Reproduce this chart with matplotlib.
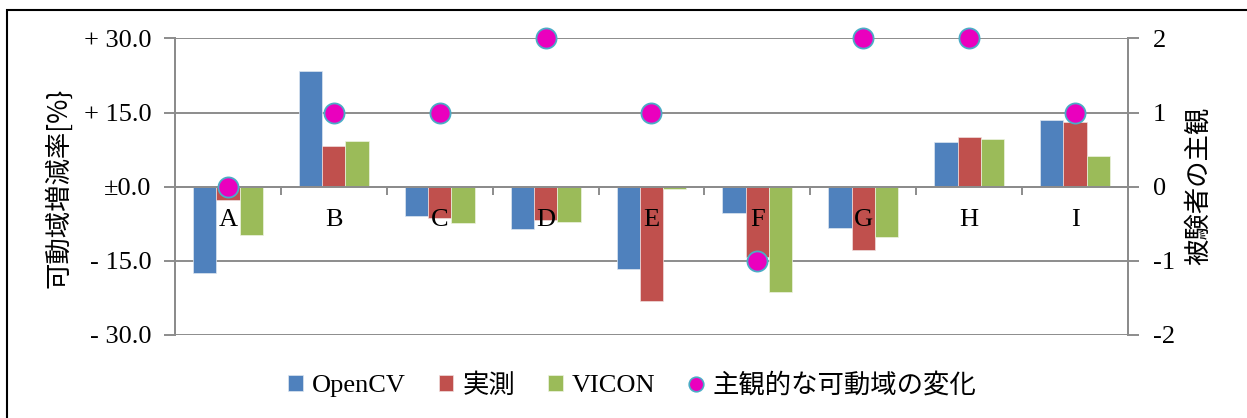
import matplotlib.pyplot as plt
from matplotlib.lines import Line2D
from matplotlib.patches import Rectangle
import numpy as np

# 被験者ごとの可動域増減率[%]と主観評価
subjects = ["A", "B", "C", "D", "E", "F", "G", "H", "I"]
opencv = [-17.4, 23.4, -5.9, -8.6, -16.7, -5.4, -8.3, 9.0, 13.6]
jissoku = [-2.7, 8.3, -6.3, -6.8, -23.1, -14.2, -12.8, 10.0, 13.1]
vicon = [-9.7, 9.3, -7.3, -7.2, -0.4, -21.3, -10.1, 9.7, 6.2]
shukan = [0, 1, 1, 2, 1, -1, 2, 2, 1]

left_ticks = [30, 15, 0, -15, -30]
left_labels = ["+ 30.0", "+ 15.0", "±0.0", "- 15.0", "- 30.0"]
right_ticks = [2, 1, 0, -1, -2]
right_labels = ["2", "1", "0", "-1", "-2"]

serif = ["Liberation Serif", "Noto Sans CJK JP"]
gothic = ["Noto Sans CJK JP", "DejaVu Sans"]
grid_c = "#8c8c8c"
fs = 19

fig = plt.figure(figsize=(12.47, 4.18), dpi=100)
ax = fig.add_axes([0.1403, 0.1986, 0.7643, 0.7093])
ax2 = ax.twinx()

x = np.arange(len(subjects))
w = 0.22
b1 = ax.bar(x - w, opencv, w, color="#4F81BD", edgecolor="#dde6f0", linewidth=0.5, label="OpenCV")
b2 = ax.bar(x, jissoku, w, color="#C0504D", edgecolor="#f0dede", linewidth=0.5, label="実測")
b3 = ax.bar(x + w, vicon, w, color="#9BBB59", edgecolor="#eef3e2", linewidth=0.5, label="VICON")

ax2.plot(x, shukan, linestyle="none", marker="o", ms=14.5, mfc="#EA00BE",
         mec="#4BACC6", mew=1.3, clip_on=False, zorder=5)

ax.set_xlim(-0.5, len(subjects) - 0.5)
ax.set_ylim(-30, 30)
ax2.set_ylim(-2, 2)

for y in left_ticks:
    ax.axhline(y, color=grid_c, lw=1.4, zorder=0.5)

ax.set_yticks(left_ticks)
ax.set_yticklabels(left_labels, family=serif, fontsize=fs)
ax2.set_yticks(right_ticks)
ax2.set_yticklabels(right_labels, family=serif, fontsize=fs)

ax.tick_params(axis="y", length=8, width=1.4, color=grid_c, pad=9)
ax2.tick_params(axis="y", length=8, width=1.4, color=grid_c, pad=10)

# カテゴリ軸は0の位置に置く
ax.spines["bottom"].set_position(("data", 0))
ax.spines["bottom"].set_color(grid_c)
ax.spines["bottom"].set_linewidth(1.4)
ax.set_xticks(x)
ax.set_xticklabels(subjects, family=serif, fontsize=fs)
ax.tick_params(axis="x", which="major", length=0, pad=16)
ax.set_xticks(np.arange(0.5, len(subjects) - 1, 1.0), minor=True)
ax.tick_params(axis="x", which="minor", length=6, width=1.4, color=grid_c, direction="out")

for a in (ax, ax2):
    a.spines["top"].set_visible(False)
    a.spines["left"].set_color(grid_c)
    a.spines["right"].set_color(grid_c)
    a.spines["left"].set_linewidth(1.4)
    a.spines["right"].set_linewidth(1.4)
ax2.spines["bottom"].set_visible(False)
ax2.tick_params(axis="x", bottom=False, labelbottom=False)

fig.text(0.047, 0.55, "可動域増減率[%}", rotation=90, ha="center", va="center",
         family=gothic, fontsize=fs)
fig.text(0.9607, 0.555, "被験者の主観", rotation=90, ha="center", va="center",
         family=gothic, fontsize=fs)

handles = [b1, b2, b3,
           Line2D([], [], linestyle="none", marker="o", ms=10.5, mfc="#EA00BE",
                  mec="#4BACC6", mew=1.2)]
labels = ["OpenCV", "実測", "VICON", "主観的な可動域の変化"]
fig.legend(handles, labels, loc="center", bbox_to_anchor=(0.507, 0.079), ncol=4,
           frameon=False, prop={"family": serif, "size": fs},
           handlelength=0.55, handleheight=0.55, handletextpad=0.35, columnspacing=1.25)

fig.patches.append(Rectangle((0.0056, -0.1), 2, 1.1 - 10 / 418, transform=fig.transFigure,
                             fill=False, edgecolor="black", lw=1.5))

fig.savefig("out.png", dpi=100)
